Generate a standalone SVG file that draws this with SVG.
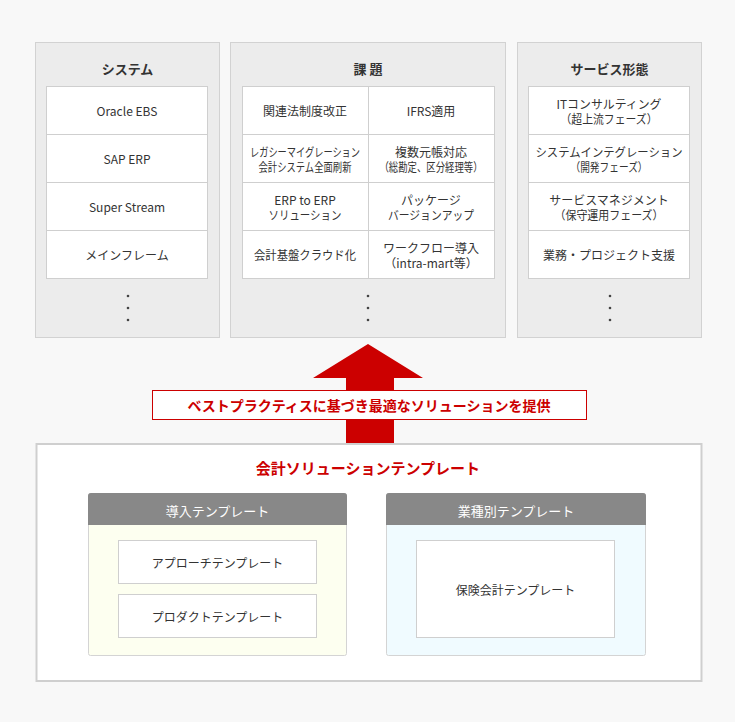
<svg xmlns="http://www.w3.org/2000/svg" width="735" height="722" viewBox="0 0 735 722">
<style>
text{font-family:"Noto Sans CJK JP","Noto Sans",sans-serif;fill:#333;text-anchor:middle;dominant-baseline:central;font-size:12px}
.title{font-size:13px;font-weight:bold}
.panel{fill:#ececec;stroke:#d2d2d2;stroke-width:1}
.cell{fill:#fff;stroke:#cfcfcf;stroke-width:1}
.dot{fill:#444}
.red{fill:#cc0000}
.hdr{fill:#fff;font-size:13px}
</style>
<rect x="0" y="0" width="735" height="722" fill="#f8f8f8"/>

<g id="system">
<rect class="panel" x="35.5" y="42.5" width="184" height="295"/>
<text class="title" x="127.5" y="68">システム</text>
<rect class="cell" x="46.5" y="86.5" width="161" height="48"/>
<rect class="cell" x="46.5" y="134.5" width="161" height="48"/>
<rect class="cell" x="46.5" y="182.5" width="161" height="48"/>
<rect class="cell" x="46.5" y="230.5" width="161" height="48"/>
<text x="127" y="110">Oracle EBS</text>
<text x="127" y="158">SAP ERP</text>
<text x="127" y="206">Super Stream</text>
<text x="127" y="254">メインフレーム</text>
<circle class="dot" cx="128" cy="296" r="1.3"/>
<circle class="dot" cx="128" cy="308" r="1.3"/>
<circle class="dot" cx="128" cy="320" r="1.3"/>
</g>

<g id="issues">
<rect class="panel" x="230.5" y="42.5" width="275" height="295"/>
<text class="title" x="368" y="68">課 題</text>
<rect class="cell" x="242.5" y="86.5" width="126" height="48"/>
<rect class="cell" x="368.5" y="86.5" width="126" height="48"/>
<rect class="cell" x="242.5" y="134.5" width="126" height="48"/>
<rect class="cell" x="368.5" y="134.5" width="126" height="48"/>
<rect class="cell" x="242.5" y="182.5" width="126" height="48"/>
<rect class="cell" x="368.5" y="182.5" width="126" height="48"/>
<rect class="cell" x="242.5" y="230.5" width="126" height="48"/>
<rect class="cell" x="368.5" y="230.5" width="126" height="48"/>
<text x="305" y="110">関連法制度改正</text>
<text x="431" y="110">IFRS適用</text>
<text x="305" y="151" textLength="110" lengthAdjust="spacingAndGlyphs">レガシーマイグレーション</text>
<text x="305" y="166" textLength="93" lengthAdjust="spacingAndGlyphs">会計システム全面刷新</text>
<text x="431" y="151">複数元帳対応</text>
<text x="431" y="166" textLength="103" lengthAdjust="spacingAndGlyphs">（総勘定、区分経理等）</text>
<text x="305" y="199">ERP to ERP</text>
<text x="305" y="214" textLength="73" lengthAdjust="spacingAndGlyphs">ソリューション</text>
<text x="431" y="199">パッケージ</text>
<text x="431" y="214" textLength="86" lengthAdjust="spacingAndGlyphs">バージョンアップ</text>
<text x="305" y="254" textLength="102" lengthAdjust="spacingAndGlyphs">会計基盤クラウド化</text>
<text x="431" y="247">ワークフロー導入</text>
<text x="431" y="262">（intra-mart等）</text>
<circle class="dot" cx="368" cy="296" r="1.3"/>
<circle class="dot" cx="368" cy="308" r="1.3"/>
<circle class="dot" cx="368" cy="320" r="1.3"/>
</g>

<g id="service">
<rect class="panel" x="517.5" y="42.5" width="184" height="295"/>
<text class="title" x="609.5" y="68">サービス形態</text>
<rect class="cell" x="528.5" y="86.5" width="161" height="48"/>
<rect class="cell" x="528.5" y="134.5" width="161" height="48"/>
<rect class="cell" x="528.5" y="182.5" width="161" height="48"/>
<rect class="cell" x="528.5" y="230.5" width="161" height="48"/>
<text x="609" y="103" textLength="105" lengthAdjust="spacingAndGlyphs">ITコンサルティング</text>
<text x="609" y="118" textLength="97" lengthAdjust="spacingAndGlyphs">（超上流フェーズ）</text>
<text x="609" y="151" textLength="147" lengthAdjust="spacingAndGlyphs">システムインテグレーション</text>
<text x="609" y="166" textLength="77" lengthAdjust="spacingAndGlyphs">（開発フェーズ）</text>
<text x="609" y="199">サービスマネジメント</text>
<text x="609" y="214" textLength="109" lengthAdjust="spacingAndGlyphs">（保守運用フェーズ）</text>
<text x="609" y="254">業務・プロジェクト支援</text>
<circle class="dot" cx="610" cy="296" r="1.3"/>
<circle class="dot" cx="610" cy="308" r="1.3"/>
<circle class="dot" cx="610" cy="320" r="1.3"/>
</g>

<g id="connectors">
<polygon class="red" points="368,344 423,378 394,378 394,444 346,444 346,378 313,378"/>
</g>

<g id="banner">
<rect x="152.5" y="390.5" width="434" height="29" fill="#fff" stroke="#cc0000" stroke-width="1"/>
<text x="369" y="405" style="fill:#cc0000;font-size:14px;font-weight:bold">ベストプラクティスに基づき最適なソリューションを提供</text>
</g>

<g id="template">
<rect x="36.5" y="444" width="665" height="237" fill="#fff" stroke="#cfcfcf" stroke-width="2"/>
<text x="368" y="467" style="fill:#cc0000;font-size:15px;font-weight:bold">会計ソリューションテンプレート</text>
</g>

<g id="intro-template">
<rect x="88.5" y="493.5" width="258" height="162" rx="2" fill="#fdfff0" stroke="#d4d4d4"/>
<path d="M88,525 V496 a3,3 0 0 1 3,-3 H344 a3,3 0 0 1 3,3 V525 Z" fill="#888"/>
<text class="hdr" x="217.5" y="510">導入テンプレート</text>
<rect class="cell" x="118.5" y="540.5" width="198" height="43"/>
<text x="217.5" y="562">アプローチテンプレート</text>
<rect class="cell" x="118.5" y="594.5" width="198" height="43"/>
<text x="217.5" y="616">プロダクトテンプレート</text>
</g>

<g id="industry-template">
<rect x="386.5" y="493.5" width="259" height="162" rx="2" fill="#f0fbff" stroke="#d4d4d4"/>
<path d="M386,525 V496 a3,3 0 0 1 3,-3 H643 a3,3 0 0 1 3,3 V525 Z" fill="#888"/>
<text class="hdr" x="516" y="510">業種別テンプレート</text>
<rect class="cell" x="416.5" y="540.5" width="198" height="97"/>
<text x="515.5" y="589">保険会計テンプレート</text>
</g>
</svg>
